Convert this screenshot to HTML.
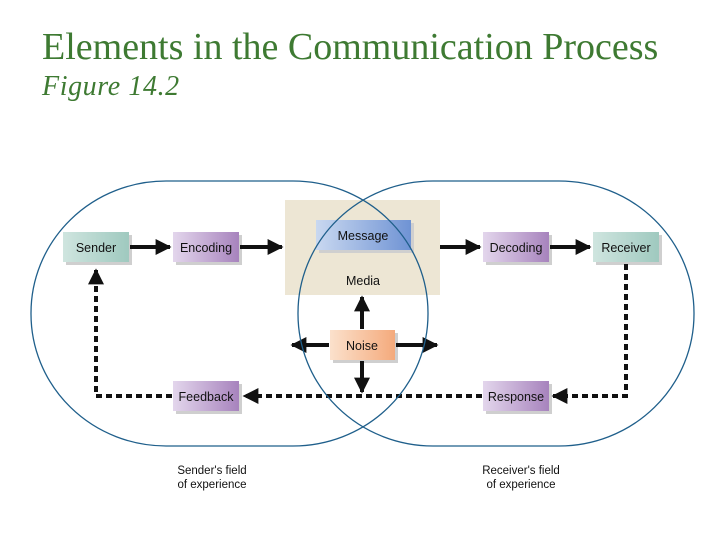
<!DOCTYPE html>
<html><head><style>
body{margin:0;width:720px;height:540px;background:#fff;overflow:hidden;position:relative;font-family:"Liberation Serif",serif}
.t1{position:absolute;left:42px;top:25px;font-size:38px;color:#3e7a32;white-space:nowrap}
.t2{position:absolute;left:42px;top:71px;font-size:28px;letter-spacing:0.6px;font-style:italic;color:#3e7a32;white-space:nowrap}
svg{position:absolute;left:0;top:0}
svg text{font-family:"Liberation Sans",sans-serif;font-size:12.5px;fill:#111}
</style></head><body>
<div class="t1">Elements in the Communication Process</div>
<div class="t2">Figure 14.2</div>
<svg width="720" height="540">
<defs>
<linearGradient id="gt" x1="0" x2="1"><stop offset="0" stop-color="#cfe5df"/><stop offset="1" stop-color="#9fc9bf"/></linearGradient>
<linearGradient id="gp" x1="0" x2="1"><stop offset="0" stop-color="#e3d6ec"/><stop offset="1" stop-color="#a783bd"/></linearGradient>
<linearGradient id="gb" x1="0" x2="1"><stop offset="0" stop-color="#c9d8f0"/><stop offset="1" stop-color="#6f93d4"/></linearGradient>
<linearGradient id="go" x1="0" x2="1"><stop offset="0" stop-color="#fbe1cc"/><stop offset="1" stop-color="#f4aa7c"/></linearGradient>
<marker id="ah" viewBox="0 0 10 10" refX="9" refY="5" markerWidth="4" markerHeight="4" orient="auto"><path d="M0,0L10,5L0,10z" fill="#111"/></marker>
</defs>
<rect x="285" y="200" width="155" height="95" fill="#ede6d4"/>
<g fill="#cfcfcf"><rect x="66" y="235" width="66" height="30"/><rect x="176" y="235" width="66" height="30"/><rect x="319" y="223" width="95" height="30"/><rect x="486" y="235" width="66" height="30"/><rect x="596" y="235" width="66" height="30"/><rect x="333" y="333" width="65" height="30"/><rect x="176" y="384" width="66" height="30"/><rect x="486" y="384" width="66" height="30"/></g>
<rect x="63" y="232" width="66" height="30" fill="url(#gt)"/><text x="96" y="252" text-anchor="middle">Sender</text>
<rect x="173" y="232" width="66" height="30" fill="url(#gp)"/><text x="206" y="252" text-anchor="middle">Encoding</text>
<rect x="316" y="220" width="95" height="30" fill="url(#gb)"/><text x="363" y="240" text-anchor="middle">Message</text>
<text x="363" y="285" text-anchor="middle">Media</text>
<rect x="483" y="232" width="66" height="30" fill="url(#gp)"/><text x="516" y="252" text-anchor="middle">Decoding</text>
<rect x="593" y="232" width="66" height="30" fill="url(#gt)"/><text x="626" y="252" text-anchor="middle">Receiver</text>
<rect x="330" y="330" width="65" height="30" fill="url(#go)"/><text x="362" y="350" text-anchor="middle">Noise</text>
<rect x="173" y="381" width="66" height="30" fill="url(#gp)"/><text x="206" y="401" text-anchor="middle">Feedback</text>
<rect x="483" y="381" width="66" height="30" fill="url(#gp)"/><text x="516" y="401" text-anchor="middle">Response</text>
<g stroke="#111" stroke-width="4" fill="none" marker-end="url(#ah)">
<line x1="130" y1="247" x2="170" y2="247"/>
<line x1="240" y1="247" x2="282" y2="247"/>
<line x1="440" y1="247" x2="480" y2="247"/>
<line x1="550" y1="247" x2="590" y2="247"/>
<line x1="362" y1="329" x2="362" y2="297"/>
<line x1="362" y1="361" x2="362" y2="392"/>
<line x1="329" y1="345" x2="292" y2="345"/>
<line x1="396" y1="345" x2="437" y2="345"/>
</g>
<g stroke="#111" stroke-width="4" fill="none" stroke-dasharray="6,4">
<polyline points="172,396 96,396 96,270" marker-end="url(#ah)"/>
<line x1="482" y1="396" x2="244" y2="396" marker-end="url(#ah)"/>
<polyline points="626,264 626,396 553,396" marker-end="url(#ah)"/>
</g>
<g fill="none" stroke="#1f5f8b" stroke-width="1.3">
<rect x="31" y="181" width="397" height="265" rx="135" ry="132"/>
<rect x="298" y="181" width="396" height="265" rx="135" ry="132"/>
</g>
<text x="212" y="474" text-anchor="middle" style="font-size:11.5px">Sender's field</text>
<text x="212" y="488" text-anchor="middle" style="font-size:11.5px">of experience</text>
<text x="521" y="474" text-anchor="middle" style="font-size:11.5px">Receiver's field</text>
<text x="521" y="488" text-anchor="middle" style="font-size:11.5px">of experience</text>
</svg>
</body></html>
